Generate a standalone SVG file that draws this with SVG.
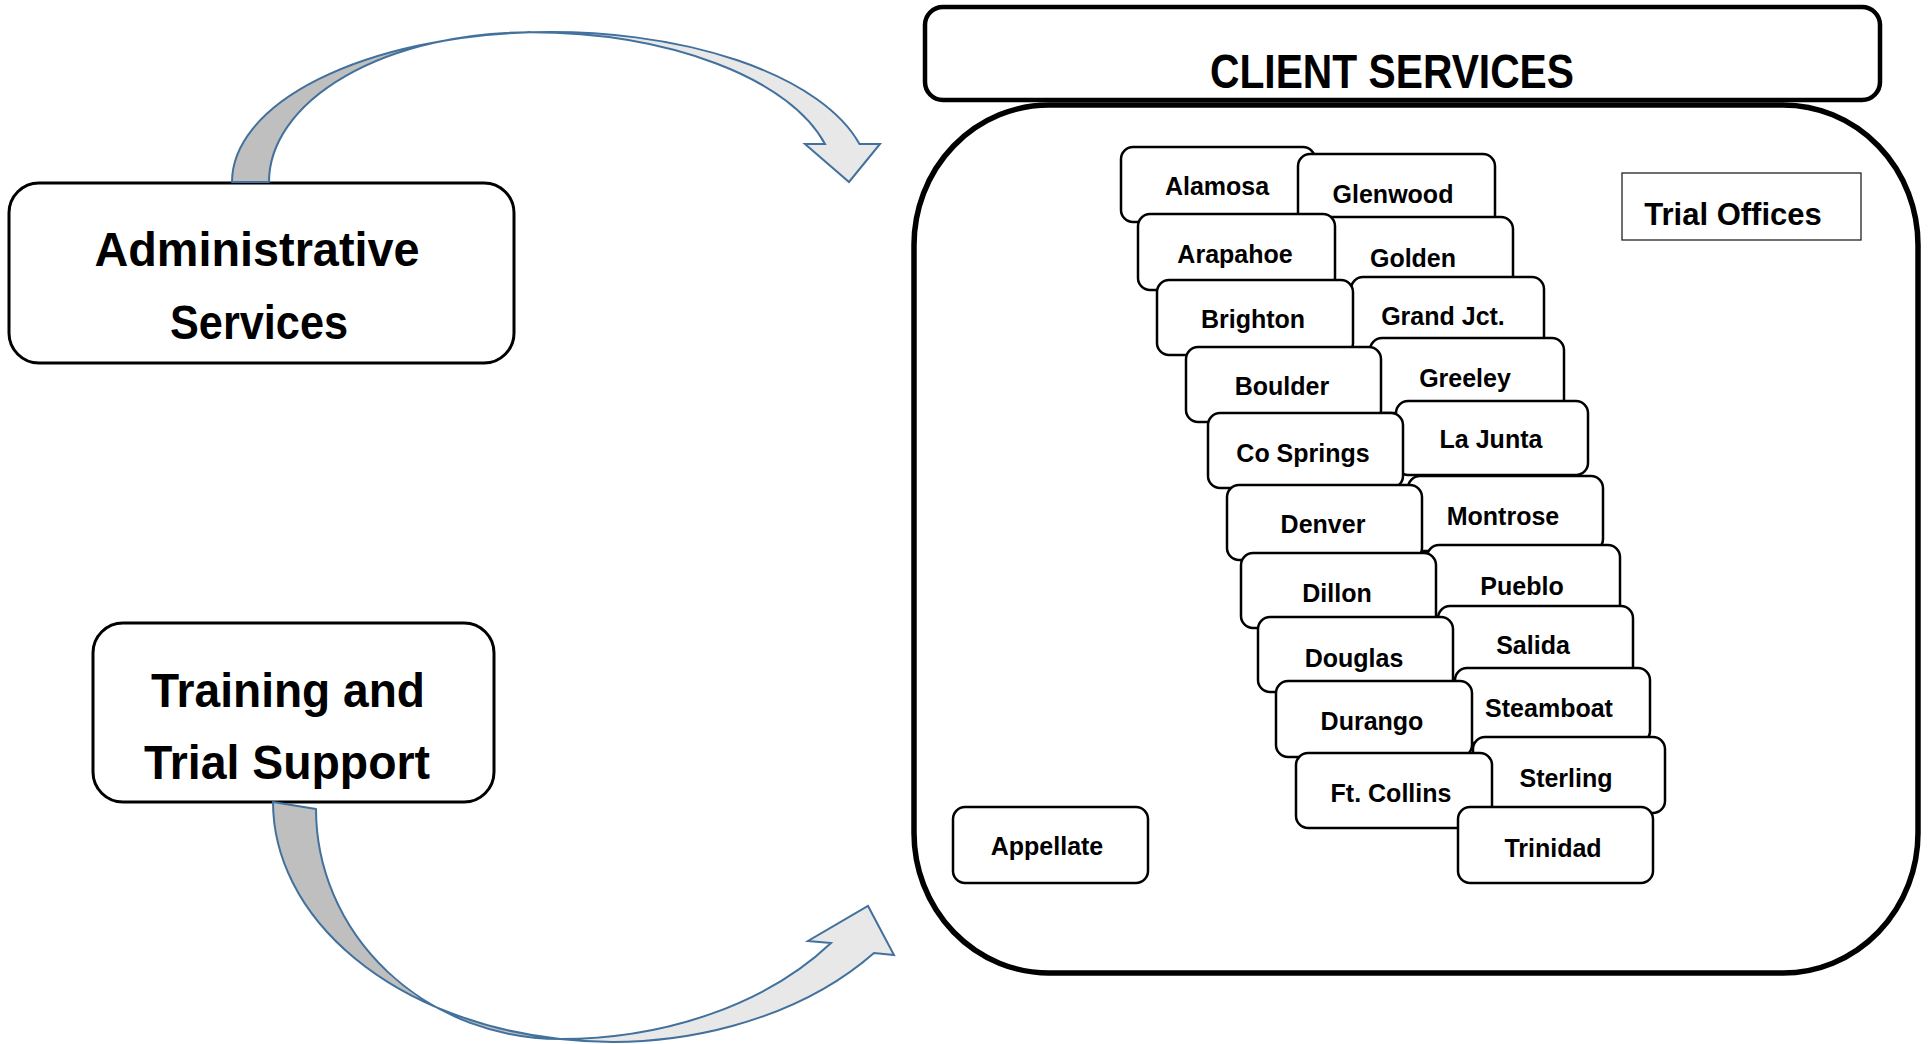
<svg xmlns="http://www.w3.org/2000/svg" width="1928" height="1044" viewBox="0 0 1928 1044">
<style>
  .t { font-family: "Liberation Sans", Arial, sans-serif; font-weight: bold; fill: #000; text-anchor: middle; }
  .big { font-size: 48px; }
  .lbl { font-size: 25px; }
  .office { fill: #fff; stroke: #000; stroke-width: 2.5; }
  .svc { fill: #fff; stroke: #000; stroke-width: 3; }
  .back { fill: #bfbfbf; stroke: #41719c; stroke-width: 2; stroke-linejoin: round; }
  .front { fill: #e8e8e8; stroke: #41719c; stroke-width: 2; stroke-linejoin: miter; }
</style>
<rect width="1928" height="1044" fill="#fff"/>

<g id="client-services">
  <rect x="914" y="105" width="1004" height="868" rx="135" ry="140" fill="#fff" stroke="#000" stroke-width="5.5"/>
  <g id="client-services-header">
    <rect x="925" y="7" width="955" height="93" rx="18" ry="18" fill="#fff" stroke="#000" stroke-width="4.5"/>
    <text class="t big" x="1392" y="88" textLength="364" lengthAdjust="spacingAndGlyphs">CLIENT SERVICES</text>
  </g>
</g>

<g id="trial-offices">
  <rect x="1622" y="173" width="239" height="67" fill="#fff" stroke="#222" stroke-width="1.3"/>
  <text class="t" x="1733" y="225" font-size="31">Trial Offices</text>
</g>

<g id="administrative-services">
  <rect class="svc" x="9" y="183" width="505" height="180" rx="30" ry="30"/>
  <text class="t big" x="257" y="266" textLength="325" lengthAdjust="spacingAndGlyphs">Administrative</text>
  <text class="t big" x="259" y="339" textLength="178" lengthAdjust="spacingAndGlyphs">Services</text>
</g>

<g id="training-and-trial-support">
  <rect class="svc" x="93" y="623" width="401" height="179" rx="30" ry="30"/>
  <text class="t big" x="288" y="707" textLength="274" lengthAdjust="spacingAndGlyphs">Training and</text>
  <text class="t big" x="287" y="779" textLength="286" lengthAdjust="spacingAndGlyphs">Trial Support</text>
</g>

<g id="appellate">
  <rect class="office" x="953" y="807" width="195" height="76" rx="12" ry="12"/>
  <text class="t lbl" x="1047" y="855">Appellate</text>
</g>

<g id="offices">
  <g id="alamosa"><rect class="office" x="1121" y="147" width="194" height="75" rx="12"/><text class="t lbl" x="1217" y="195">Alamosa</text></g>
  <g id="glenwood"><rect class="office" x="1298" y="154" width="197" height="76" rx="12"/><text class="t lbl" x="1393" y="203">Glenwood</text></g>
  <g id="golden"><rect class="office" x="1318" y="217" width="195" height="75" rx="12"/><text class="t lbl" x="1413" y="267">Golden</text></g>
  <g id="arapahoe"><rect class="office" x="1138" y="214" width="197" height="76" rx="12"/><text class="t lbl" x="1235" y="263">Arapahoe</text></g>
  <g id="grand-jct"><rect class="office" x="1351" y="277" width="193" height="75" rx="12"/><text class="t lbl" x="1443" y="325">Grand Jct.</text></g>
  <g id="brighton"><rect class="office" x="1157" y="280" width="196" height="75" rx="12"/><text class="t lbl" x="1253" y="328">Brighton</text></g>
  <g id="greeley"><rect class="office" x="1370" y="338" width="194" height="75" rx="12"/><text class="t lbl" x="1465" y="387">Greeley</text></g>
  <g id="boulder"><rect class="office" x="1186" y="347" width="195" height="75" rx="12"/><text class="t lbl" x="1282" y="395">Boulder</text></g>
  <g id="la-junta"><rect class="office" x="1396" y="401" width="192" height="74" rx="12"/><text class="t lbl" x="1491" y="448">La Junta</text></g>
  <g id="co-springs"><rect class="office" x="1208" y="413" width="195" height="75" rx="12"/><text class="t lbl" x="1303" y="462">Co Springs</text></g>
  <g id="montrose"><rect class="office" x="1408" y="476" width="195" height="75" rx="12"/><text class="t lbl" x="1503" y="525">Montrose</text></g>
  <g id="denver"><rect class="office" x="1227" y="485" width="195" height="75" rx="12"/><text class="t lbl" x="1323" y="533">Denver</text></g>
  <g id="pueblo"><rect class="office" x="1427" y="545" width="193" height="75" rx="12"/><text class="t lbl" x="1522" y="595">Pueblo</text></g>
  <g id="dillon"><rect class="office" x="1241" y="553" width="195" height="75" rx="12"/><text class="t lbl" x="1337" y="602">Dillon</text></g>
  <g id="salida"><rect class="office" x="1438" y="606" width="195" height="75" rx="12"/><text class="t lbl" x="1533" y="654">Salida</text></g>
  <g id="douglas"><rect class="office" x="1258" y="617" width="195" height="75" rx="12"/><text class="t lbl" x="1354" y="667">Douglas</text></g>
  <g id="steamboat"><rect class="office" x="1455" y="668" width="195" height="75" rx="12"/><text class="t lbl" x="1549" y="717">Steamboat</text></g>
  <g id="durango"><rect class="office" x="1276" y="681" width="196" height="76" rx="12"/><text class="t lbl" x="1372" y="730">Durango</text></g>
  <g id="sterling"><rect class="office" x="1473" y="737" width="192" height="76" rx="12"/><text class="t lbl" x="1566" y="787">Sterling</text></g>
  <g id="ft-collins"><rect class="office" x="1296" y="753" width="196" height="75" rx="12"/><text class="t lbl" x="1391" y="802">Ft. Collins</text></g>
  <g id="trinidad"><rect class="office" x="1458" y="807" width="195" height="76" rx="12"/><text class="t lbl" x="1553" y="857">Trinidad</text></g>
</g>

<g id="connectors">
  <g id="arrow-admin-to-client">
    <path class="back" d="M 232,182 A 319 150 0 0 1 530,32.3 A 261 149.7 0 0 0 269,182 Z"/>
    <path class="front" d="M 530,32.3 A 319 150 0 0 1 859.5,144 L 880,144 L 849,182 L 805,144 L 825,144 A 305 149.7 0 0 0 530,32.3 Z"/>
  </g>
  <g id="arrow-training-to-client">
    <path class="back" d="M 273,802 L 316,809 A 244 230 0 0 0 560,1039 A 338 240 0 0 1 273,802 Z"/>
    <path class="front" d="M 560,1039 A 338 240 0 0 0 874,953 L 894,955 L 868,906 L 808,941 L 831,943 A 337 237 0 0 1 560,1039 Z"/>
  </g>
</g>
</svg>
